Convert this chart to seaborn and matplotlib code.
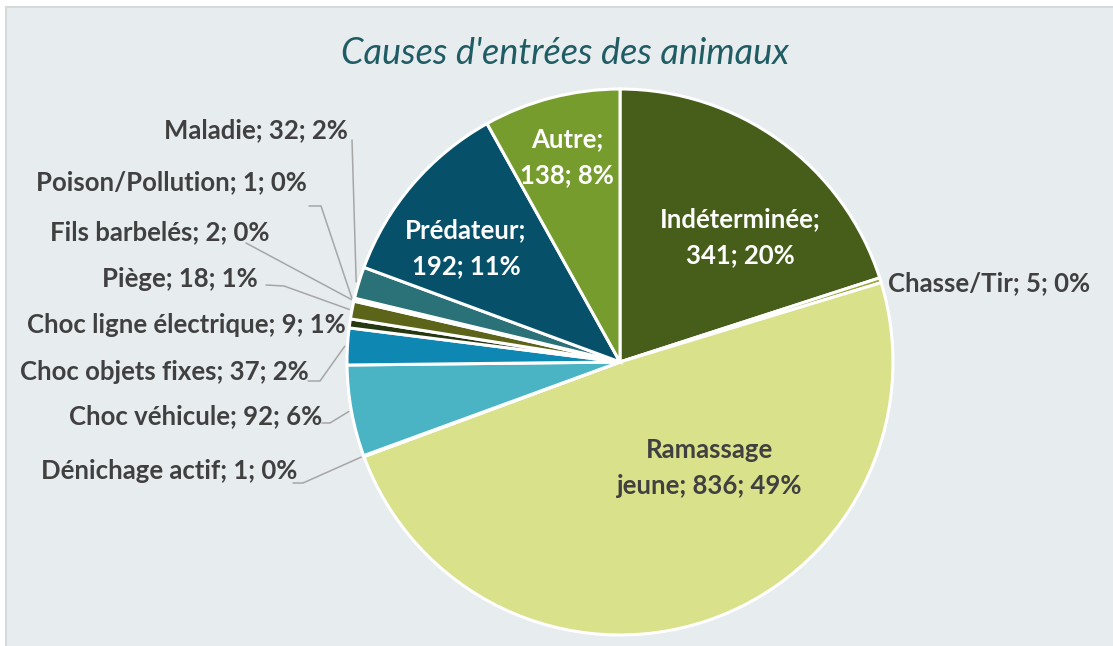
import numpy as np
import matplotlib.pyplot as plt
import seaborn as sns

# data, clockwise from 12 o'clock
causes = ['Indéterminée', 'Chasse/Tir', 'Ramassage jeune', 'Dénichage actif',
          'Choc véhicule', 'Choc objets fixes', 'Choc ligne électrique', 'Piège',
          'Fils barbelés', 'Poison/Pollution', 'Maladie', 'Prédateur', 'Autre']
counts = [341, 5, 836, 1, 92, 37, 9, 18, 2, 1, 32, 192, 138]
pcts = [20, 0, 49, 0, 6, 2, 1, 1, 0, 0, 2, 11, 8]
colors = ['#465E1A', '#9AA83A', '#DAE18B', '#3E8FA6', '#4AB4C5', '#0E87B2',
          '#25380F', '#5B6418', '#3A4F1C', '#1A5060', '#2A7178', '#07506A', '#769C2E']

sns.set_theme(style='white')
plt.rcParams['font.family'] = ['Lato', 'DejaVu Sans']

W, H = 1113, 646
bg = '#E7ECEF'
fs = 18.5
fig = plt.figure(figsize=(W / 100, H / 100), dpi=100)
fig.patch.set_facecolor('white')

# background panel
back = fig.add_axes([0, 0, 1, 1], zorder=0)
back.set_xlim(0, W)
back.set_ylim(H, 0)
back.axis('off')
back.add_patch(plt.Rectangle((6, 7), W, H, facecolor=bg, edgecolor='#D5D9DB', lw=1.5))

# pie
cx, cy, r = 620, 362, 273
ax = fig.add_axes([(cx - r) / W, (H - cy - r) / H, 2 * r / W, 2 * r / H], zorder=1)
ax.set_facecolor('none')
wedges, _ = ax.pie(counts, colors=colors, startangle=90, counterclock=False,
                   wedgeprops=dict(edgecolor='white', linewidth=2.2))
ax.set_xlim(-1, 1)
ax.set_ylim(-1, 1)
ax.set_aspect('equal')

# text layer on top, pixel coords (y down)
ov = fig.add_axes([0, 0, 1, 1], zorder=2)
ov.set_xlim(0, W)
ov.set_ylim(H, 0)
ov.axis('off')
ov.patch.set_alpha(0)

def edge_px(i, rr=1.01):
    a = np.deg2rad(0.5 * (wedges[i].theta1 + wedges[i].theta2))
    return cx + rr * r * np.cos(a), cy - rr * r * np.sin(a)

def label(i):
    return f'{causes[i]}; {counts[i]}; {pcts[i]}%'

ov.text(565, 53, "Causes d'entrées des animaux", ha='center', va='center',
        fontsize=26, style='italic', color='#1F5C63')

# labels inside slices
inside = {0: (740, 237, 'Indéterminée;\n341; 20%', 'white'),
          2: (710, 468, 'Ramassage\njeune; 836; 49%', '#404040'),
          11: (466, 248, 'Prédateur;\n192; 11%', 'white'),
          12: (567, 157, 'Autre;\n138; 8%', 'white')}
for i, (x, y, s, c) in inside.items():
    ov.text(x, y, s, ha='center', va='center', fontsize=fs, fontweight='bold',
            color=c, linespacing=1.6)

# labels outside: right end x, centre y, leader points before the slice edge
outside = {10: (348, 130, [(352, 140)]),
           9: (307, 182, [(309, 206), (321, 206)]),
           8: (270, 232, [(246, 243)]),
           7: (258, 279, [(266, 285), (284, 286)]),
           6: (346, 325, []),
           5: (309, 372, [(308, 381), (320, 381)]),
           4: (322, 416, [(322, 423), (330, 423)]),
           3: (297, 471, [(293, 483), (303, 483)])}
for i, (x, y, pts) in outside.items():
    ov.text(x, y, label(i), ha='right', va='center', fontsize=fs, fontweight='bold',
            color='#404040')
    if pts:
        ex, ey = edge_px(i)
        xs = [p[0] for p in pts] + [ex]
        ys = [p[1] for p in pts] + [ey]
        ov.plot(xs, ys, color='#A6A6A6', lw=1.1)

ov.text(888, 283, label(1), ha='left', va='center', fontsize=fs, fontweight='bold',
        color='#404040')

fig.savefig('out.png', dpi=100, facecolor='white')
